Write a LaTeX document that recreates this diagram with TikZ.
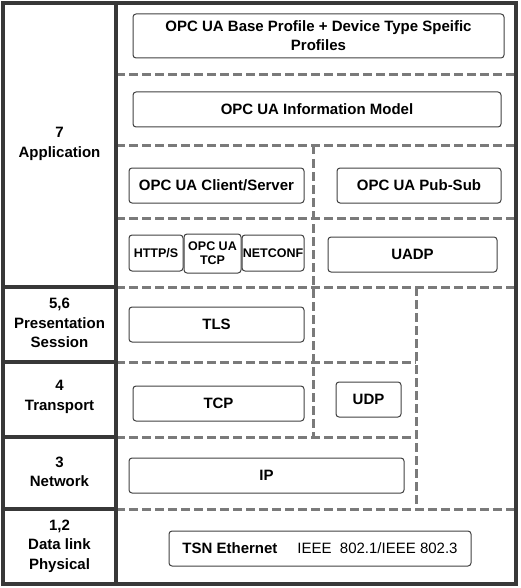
\documentclass[tikz,border=0pt]{standalone}
\usepackage{fontspec}
\setmainfont{Liberation Sans}
\begin{document}
\begin{tikzpicture}[
  x=1pt, y=-1pt,
  frame/.style = {draw=black!78, line width=3.4pt},
  sep/.style = {draw=black!52, line width=3pt, dash pattern=on 8.5pt off 4.5pt},
  layer/.style = {align=center, font=\fontsize{15}{19.5}\selectfont\bfseries},
  proto/.style = {shape=rectangle, rounded corners=3pt, draw=black!75,
    line width=1pt, inner sep=0pt, align=center,
    font=\fontsize{15}{19}\selectfont\bfseries},
  small/.style = {proto, font=\fontsize{12.5}{14}\selectfont\bfseries}
  ]
  \useasboundingbox (0,0) rectangle (520,588);
  % layer separators
  \draw[sep] (116,75) -- (516,75);
  \draw[sep] (116,146) -- (516,146);
  \draw[sep] (116,218) -- (516,218);
  \draw[sep] (116,287) -- (516,287);
  \draw[sep] (116,362) -- (416,362);
  \draw[sep] (116,437) -- (416,437);
  \draw[sep] (116,509) -- (516,509);
  \draw[sep] (313,146) -- (313,437);
  \draw[sep] (416,287) -- (416,509);
  % frame and OSI column
  \draw[frame] (3,3) rectangle (516,584);
  \draw[frame] (116,3) -- (116,584);
  \foreach \y in {287,362,437,509}
    \draw[frame] (3,\y) -- (116,\y);
  \node[layer] (app)  at (59.5,144) {7\\Application};
  \node[layer] (pres) at (59.5,323) {5,6\\Presentation\\Session};
  \node[layer] (trans) at (59.5,397) {4\\Transport};
  \node[layer] (net)  at (59.5,472) {3\\Network};
  \node[layer] (link) at (59.5,546) {1,2\\Data link\\Physical};
  % protocol boxes
  \node[proto, minimum width=371pt, minimum height=44pt] (base) at (318.5,36)
    {OPC UA Base Profile + Device Type Speific\\Profiles};
  \node[proto, minimum width=368pt, minimum height=35pt] (info) at (317,109.5)
    {OPC UA Information Model};
  \node[proto, minimum width=175pt, minimum height=35pt] (cs) at (216.5,185.5)
    {OPC UA Client/Server};
  \node[proto, minimum width=164pt, minimum height=35pt] (ps) at (419,185.5)
    {OPC UA Pub-Sub};
  \node[small, minimum width=54pt, minimum height=36pt] (http) at (156,253)
    {HTTP/S};
  \node[small, minimum width=57pt, minimum height=39pt] (uatcp) at (212.5,253.5)
    {OPC UA\\TCP};
  \node[small, minimum width=62pt, minimum height=36pt] (netconf) at (273,253)
    {NETCONF};
  \node[proto, minimum width=169pt, minimum height=35pt] (uadp) at (412.5,254.5)
    {UADP};
  \node[proto, minimum width=175pt, minimum height=35pt] (tls) at (216.5,324.5)
    {TLS};
  \node[proto, minimum width=171pt, minimum height=35pt] (tcp) at (218.5,403.5)
    {TCP};
  \node[proto, minimum width=65pt, minimum height=35pt] (udp) at (368.5,399.5)
    {UDP};
  \node[proto, minimum width=275pt, minimum height=35pt] (ip) at (266.5,475.5)
    {IP};
  \node[proto, minimum width=302pt, minimum height=35pt] (tsn) at (320,548.5)
    {TSN Ethernet\hspace{20pt}\mdseries IEEE\ \ 802.1/IEEE 802.3};
\end{tikzpicture}
\end{document}
